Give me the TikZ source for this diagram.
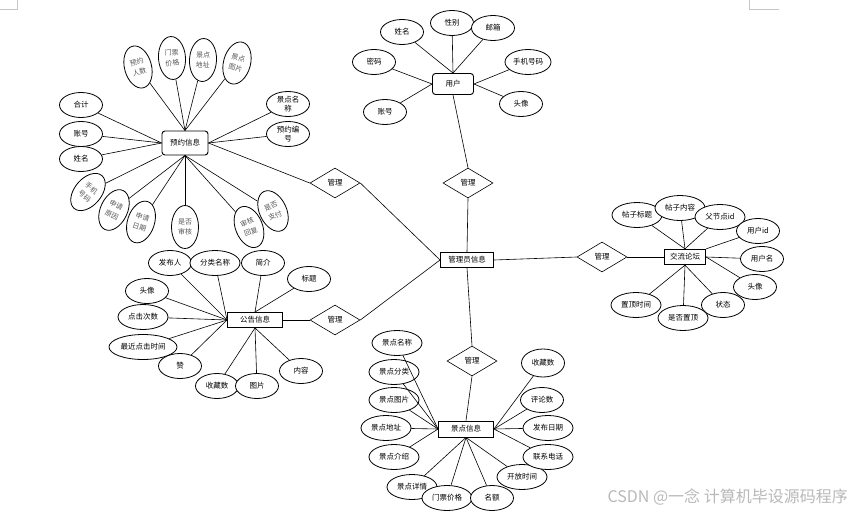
\documentclass[tikz,border=0pt]{standalone}
\usepackage{fontspec}
\newfontfamily\cjk{Noto Sans CJK SC}
\usetikzlibrary{shapes.geometric}
\begin{document}
\begin{tikzpicture}[x=1pt,y=-1pt,
  ln/.style={line width=0.6pt},
  ent/.style={draw, rectangle, line width=0.9pt, inner sep=0pt, fill=white, font=\cjk\fontsize{7.5}{8}\selectfont},
  rent/.style={ent, rounded corners=3pt},
  attr/.style={ellipse, draw, line width=0.8pt, inner sep=0pt, fill=white, align=center,
    minimum width=43pt, minimum height=25pt, font=\cjk\fontsize{7.5}{8.5}\selectfont},
  wattr/.style={attr, minimum width=50pt},
  rattr/.style={attr, minimum width=27pt, minimum height=43pt, text=gray!70!black, font=\cjk\fontsize{7}{10.5}\selectfont},
  rel/.style={diamond, draw, line width=0.6pt, inner sep=0pt, fill=white, aspect=1.67,
    minimum width=50pt, minimum height=30pt, font=\cjk\fontsize{7.5}{8}\selectfont}]
\useasboundingbox (0,0) rectangle (851,514);
\fill[white] (0,0) rectangle (851,514);
% page corner marks
\draw[gray!45, line width=0.5pt] (0,9) -- (17,9) -- (17,0);
\draw[gray!45, line width=0.5pt] (779,9) -- (749,9) -- (749,0);

% ===== central entity and relations =====
\node[ent, minimum width=53pt, minimum height=15pt] (admin) at (467,260) {管理员信息};
\node[rel] (dtop) at (468,183) {管理};
\node[rel] (d1) at (335,183) {管理};
\node[rel] (d2) at (335,320) {管理};
\node[rel] (dr) at (602,257) {管理};
\node[rel] (db) at (472,361) {管理};

% ===== 预约信息 =====
\node[rent, minimum width=46pt, minimum height=24pt] (yy) at (185,143) {预约信息};
\node[rattr, rotate=15] (y1) at (138,67) {预约\\人数};
\node[rattr, rotate=4] (y2) at (172,58) {门票\\价格};
\node[rattr, rotate=-3] (y3) at (203,60) {景点\\地址};
\node[rattr, rotate=-15] (y4) at (237,63) {景点\\图片};
\node[attr] (y5) at (81,105) {合计};
\node[attr] (y6) at (81,134) {账号};
\node[attr] (y7) at (81,159) {姓名};
\node[rattr, rotate=-40] (y8) at (88,192) {手机\\号码};
\node[rattr, rotate=-25] (y9) at (114,210) {申请\\原因};
\node[rattr, rotate=-18] (y10) at (141,222) {申请\\日期};
\node[rattr] (y11) at (185,227) {是否\\审核};
\node[rattr, rotate=22] (y12) at (249,227) {审核\\回复};
\node[rattr, rotate=25] (y13) at (273,211) {是否\\支付};
\node[attr] (y14) at (288,104) {景点名\\称};
\node[attr] (y15) at (288,134) {预约编\\号};
\foreach \a in {y1,y2,y3,y4} \draw[ln] (\a) -- (yy.north);
\foreach \a in {y5,y6,y7} \draw[ln] (\a) -- (yy.west);
\draw[ln] (y8) -- (yy.south west);
\foreach \a in {y9,y10,y11,y12,y13} \draw[ln] (\a) -- (yy.south);
\foreach \a in {y14,y15} \draw[ln] (\a) -- (yy.east);

% ===== 用户 =====
\node[rent, minimum width=41pt, minimum height=21pt] (user) at (453,84) {用户};
\node[attr] (u1) at (402,32) {姓名};
\node[attr] (u2) at (452,23) {性别};
\node[attr] (u3) at (493,28) {邮箱};
\node[attr] (u4) at (374,62) {密码};
\node[attr, minimum width=46pt] (u5) at (528,62) {手机号码};
\node[attr] (u6) at (385,112) {账号};
\node[attr] (u7) at (521,104) {头像};
\foreach \a in {u1,u2,u3} \draw[ln] (\a) -- (user.north);
\foreach \a in {u4,u6} \draw[ln] (\a) -- (user.west);
\foreach \a in {u5,u7} \draw[ln] (\a) -- (user.east);

% ===== 交流论坛 =====
\node[ent, line width=1.3pt, minimum width=41pt, minimum height=15pt] (forum) at (685,257) {交流论坛};
\node[wattr] (f1) at (637,215) {帖子标题};
\node[wattr] (f2) at (680,208) {帖子内容};
\node[wattr] (f3) at (720,217) {父节点id};
\node[attr] (f4) at (758,231) {用户id};
\node[attr] (f5) at (762,259) {用户名};
\node[attr] (f6) at (755,287) {头像};
\node[attr] (f7) at (723,305) {状态};
\node[wattr] (f9) at (636,305) {置顶时间};
\node[wattr] (f8) at (683,318) {是否置顶};
\foreach \a in {f1,f2,f3} \draw[ln] (\a) -- (forum.north);
\draw[ln] (f4) -- (forum.north east);
\foreach \a in {f5,f6} \draw[ln] (\a) -- (forum.east);
\foreach \a in {f7,f8,f9} \draw[ln] (\a) -- (forum.south);

% ===== 公告信息 =====
\node[ent, minimum width=55pt, minimum height=15pt] (gg) at (255,320) {公告信息};
\node[attr] (g1) at (170,263) {发布人};
\node[wattr] (g2) at (215,263) {分类名称};
\node[attr] (g3) at (263,263) {简介};
\node[attr] (g4) at (309,279) {标题};
\node[attr] (g5) at (147,291) {头像};
\node[wattr] (g6) at (143,317) {点击次数};
\node[attr, minimum width=68pt] (g7) at (143,347) {最近点击时间};
\node[attr] (g8) at (180,366) {赞};
\node[attr] (g9) at (217,386) {收藏数};
\node[attr] (g10) at (257,386) {图片};
\node[attr] (g11) at (301,371) {内容};
\foreach \a in {g1,g2,g5,g6,g7,g8} \draw[ln] (\a) -- (gg.west);
\foreach \a in {g3,g4} \draw[ln] (\a) -- (gg.north);
\foreach \a in {g9,g10,g11} \draw[ln] (\a) -- (gg.south);

% ===== 景点信息 =====
\node[ent, minimum width=55pt, minimum height=16pt] (jd) at (466,429) {景点信息};
\node[wattr] (j1) at (397,343) {景点名称};
\node[wattr] (j2) at (394,372) {景点分类};
\node[wattr] (j3) at (394,400) {景点图片};
\node[wattr] (j4) at (386,428) {景点地址};
\node[wattr] (j5) at (394,457) {景点介绍};
\node[wattr] (j6) at (412,487) {景点详情};
\node[wattr] (j7) at (447,498) {门票价格};
\node[attr] (j8) at (492,498) {名额};
\node[wattr] (j9) at (522,477) {开放时间};
\node[wattr] (j10) at (548,457) {联系电话};
\node[wattr] (j11) at (548,428) {发布日期};
\node[attr] (j12) at (542,400) {评论数};
\node[attr, minimum height=28pt] (j13) at (543,363) {收藏数};
\foreach \a in {j1,j2,j3,j4,j5} \draw[ln] (\a) -- (jd.west);
\foreach \a in {j6,j7,j8,j9} \draw[ln] (\a) -- (jd.south);
\foreach \a in {j10,j11,j12,j13} \draw[ln] (\a) -- (jd.east);

% ===== relation links =====
\draw[ln] (user.south) -- (dtop.north);
\draw[ln] (dtop.south) -- (admin.north);
\draw[ln] (yy.east) -- (d1.west);
\draw[ln] (d1.east) -- (admin.west);
\draw[ln] (gg.east) -- (d2.west);
\draw[ln] (d2.east) -- (admin.west);
\draw[ln] (admin.east) -- (dr.west);
\draw[ln] (dr.east) -- (forum.west);
\draw[ln] (admin.south) -- (db.north);
\draw[ln] (db.south) -- (jd.north);

% watermark
\node[anchor=east, text=gray!55, inner sep=0pt, font=\cjk\fontsize{16}{17}\selectfont] (wm) at (848,497) {CSDN @一念 计算机毕设源码程序};
\end{tikzpicture}
\end{document}
